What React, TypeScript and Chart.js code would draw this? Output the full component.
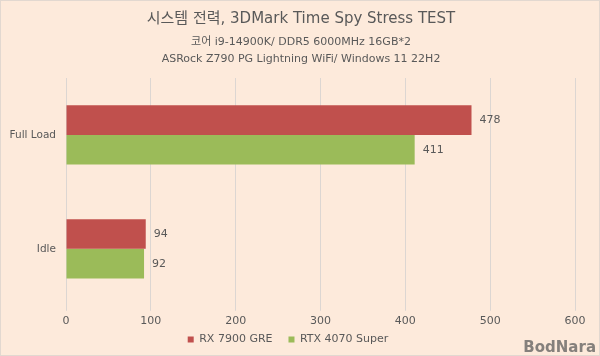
import React, { useEffect, useRef } from "react";
import { Chart, registerables } from "chart.js";

Chart.register(...registerables);

const categories = ["Full Load", "Idle"];
const seriesNames = ["RX 7900 GRE", "RTX 4070 Super"];
const rx7900gre = [478, 94];
const rtx4070super = [411, 92];
const seriesColors = ["#C0504D", "#9BBB59"];
const titleText = "시스템 전력, 3DMark Time Spy Stress TEST";
const subtitleLines = ["코어 i9-14900K/ DDR5 6000MHz 16GB*2", "ASRock Z790 PG Lightning WiFi/ Windows 11 22H2"];
const watermark = "BodNara";

const FONT = "'DejaVu Sans', 'Noto Sans CJK KR', sans-serif";
const TEXT = "#595959";

const textPlugin = {
  id: "texts",
  afterDraw(chart: any) {
    const ctx = chart.ctx;
    ctx.save();
    ctx.fillStyle = TEXT;
    ctx.textAlign = "center";
    ctx.textBaseline = "middle";
    ctx.font = `15px ${FONT}`;
    ctx.fillText(titleText, 300, 18);
    ctx.font = `11px ${FONT}`;
    ctx.fillText(subtitleLines[0], 300, 41);
    ctx.fillText(subtitleLines[1], 300, 58);
    // value labels
    ctx.font = `11px ${FONT}`;
    ctx.textAlign = "left";
    chart.data.datasets.forEach((ds: any, i: number) => {
      const meta = chart.getDatasetMeta(i);
      meta.data.forEach((bar: any, j: number) => {
        ctx.fillText(String(ds.data[j]), bar.x + 8, bar.y);
      });
    });
    // watermark
    ctx.font = `bold 15px ${FONT}`;
    ctx.fillStyle = "#85807C";
    ctx.textAlign = "right";
    ctx.textBaseline = "alphabetic";
    ctx.fillText(watermark, 595, 351);
    ctx.restore();
  },
};

export default function App() {
  const ref = useRef<HTMLCanvasElement>(null);
  useEffect(() => {
    const prevMargin = document.body.style.margin;
    document.body.style.margin = "0";
    const chart = new Chart(ref.current!, {
      type: "bar",
      data: {
        labels: categories,
        datasets: [
          { label: seriesNames[0], data: rx7900gre, backgroundColor: seriesColors[0] },
          { label: seriesNames[1], data: rtx4070super, backgroundColor: seriesColors[1] },
        ],
      },
      options: {
        indexAxis: "y",
        animation: false,
        responsive: false,
        categoryPercentage: 0.52,
        barPercentage: 1,
        layout: { padding: { top: 77, right: 24, left: 0, bottom: 0 } },
        scales: {
          x: {
            min: 0,
            max: 600,
            ticks: { stepSize: 100, color: TEXT, font: { family: FONT, size: 11 }, padding: 4 },
            grid: { color: "#DCD6D2", drawTicks: true, tickLength: 5 },
            border: { display: false },
          },
          y: {
            ticks: { color: TEXT, font: { family: FONT, size: 10.5 }, padding: 2 },
            grid: { display: false },
            border: { display: false },
            afterFit: (s: any) => {
              s.width = 65;
            },
          },
        },
        plugins: {
          legend: {
            position: "bottom",
            labels: {
              color: TEXT,
              font: { family: FONT, size: 11 },
              boxWidth: 6,
              boxHeight: 6,
              padding: 2,
              generateLabels: (c: any) => {
                const items = Chart.defaults.plugins.legend.labels.generateLabels(c);
                return items.map((it: any, i: number) => ({
                  ...it,
                  text: i < items.length - 1 ? it.text + "    " : it.text,
                }));
              },
            },
          },
          tooltip: { enabled: false },
        },
      },
      plugins: [textPlugin],
    });
    return () => {
      chart.destroy();
      document.body.style.margin = prevMargin;
    };
  }, []);
  return (
    <div style={{ width: 600, height: 356, background: "#FDEADB", boxSizing: "border-box", border: "1px solid #E2D8D0" }}>
      <canvas ref={ref} width={598} height={354} style={{ display: "block" }} />
    </div>
  );
}
